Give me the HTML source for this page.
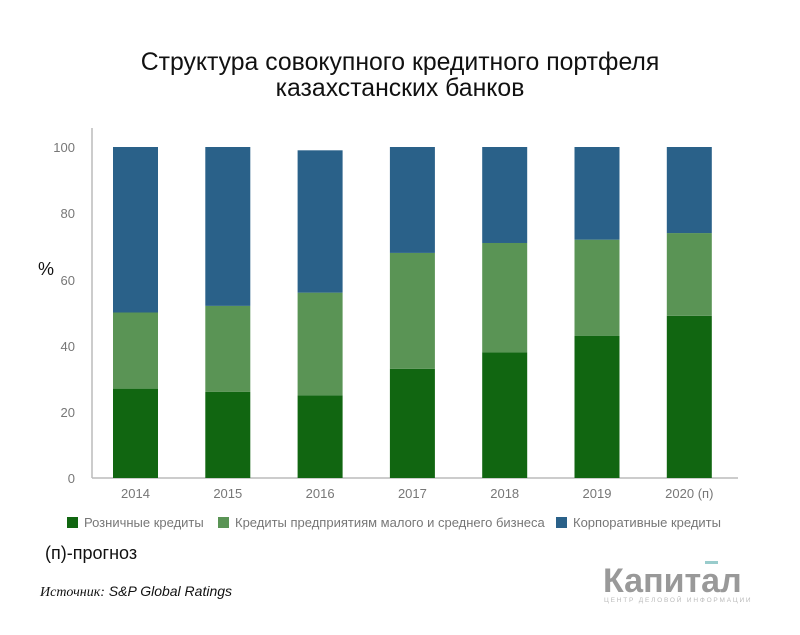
<!DOCTYPE html>
<html><head><meta charset="utf-8"><style>
body{margin:0;background:#fff;}
svg text{font-family:"Liberation Sans","DejaVu Sans",sans-serif;}
</style></head><body>
<svg width="800" height="630" xmlns="http://www.w3.org/2000/svg">
<rect width="800" height="630" fill="#fff"/>
<text x="400" y="70" font-size="24.8" text-anchor="middle" fill="#111">Структура совокупного кредитного портфеля</text>
<text x="400" y="96" font-size="24.8" text-anchor="middle" fill="#111">казахстанских банков</text>
<text x="38" y="275" font-size="18" fill="#111">%</text>
<g font-size="13" fill="#777" text-anchor="end">
<text x="75" y="483">0</text><text x="75" y="417">20</text><text x="75" y="351">40</text>
<text x="75" y="285">60</text><text x="75" y="218">80</text><text x="75" y="152">100</text>
</g>
<line x1="92" y1="128" x2="92" y2="478" stroke="#bbb" stroke-width="1.5"/>
<line x1="92" y1="478" x2="738" y2="478" stroke="#bbb" stroke-width="1.5"/>
<g id="bars"></g>
<g font-size="13" fill="#777" text-anchor="middle" id="xl"></g>
<rect x="67" y="517" width="11" height="11" fill="#116611"/>
<text x="84" y="527" font-size="13" fill="#777">Розничные кредиты</text>
<rect x="218" y="517" width="11" height="11" fill="#5a9455"/>
<text x="235" y="527" font-size="13" fill="#777">Кредиты предприятиям малого и среднего бизнеса</text>
<rect x="556" y="517" width="11" height="11" fill="#2a6189"/>
<text x="573" y="527" font-size="13" fill="#777">Корпоративные кредиты</text>
<text x="45" y="559" font-size="18" fill="#111">(п)-прогноз</text>
<text x="40" y="596" font-size="14" font-style="italic" fill="#111"><tspan style="font-family:'Liberation Serif',serif">Источник:</tspan> S&amp;P Global Ratings</text>
<text x="603" y="592" font-size="34" font-weight="bold" fill="#999">Капитал</text>
<rect x="705" y="561" width="13" height="3" fill="#9cc"/>
<text x="604" y="602" font-size="6.5" fill="#bbb" letter-spacing="1.8">ЦЕНТР ДЕЛОВОЙ ИНФОРМАЦИИ</text>
</svg>
<script>
var d=[[27,50,100,"2014"],[26,52,100,"2015"],[25,56,99,"2016"],[33,68,100,"2017"],[38,71,100,"2018"],[43,72,100,"2019"],[49,74,100,"2020 (п)"]];
var ns="http://www.w3.org/2000/svg",g=document.getElementById("bars"),xl=document.getElementById("xl");
function y(v){return 478-3.31*v;}
function r(x,a,b,c){var e=document.createElementNS(ns,"rect");e.setAttribute("x",x);e.setAttribute("y",y(b));e.setAttribute("width",45);e.setAttribute("height",y(a)-y(b));e.setAttribute("fill",c);g.appendChild(e);}
d.forEach(function(p,i){var x=113+i*92.3;r(x,0,p[0],"#116611");r(x,p[0],p[1],"#5a9455");r(x,p[1],p[2],"#2a6189");
var t=document.createElementNS(ns,"text");t.setAttribute("x",x+22.5);t.setAttribute("y",498);t.textContent=p[3];xl.appendChild(t);});
</script>
</body></html>
